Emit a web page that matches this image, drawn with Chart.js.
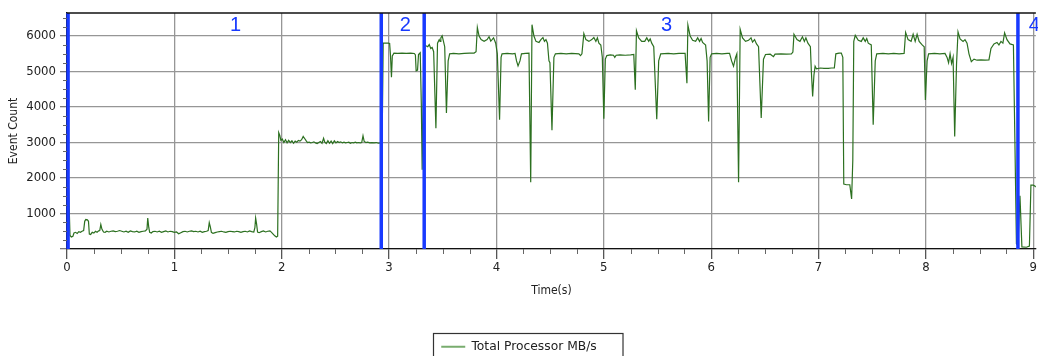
<!DOCTYPE html>
<html>
<head>
<meta charset="utf-8">
<title>Total Processor MB/s</title>
<script src="https://cdn.jsdelivr.net/npm/chart.js@4.4.1/dist/chart.umd.min.js"></script>
<style>
  html, body { margin: 0; padding: 0; background: #fff; }
</style>
</head>
<body>
<canvas id="cpuChart" width="1038" height="356"></canvas>
<script>
"use strict";
// sample times (s) and counts of the trace
var timeSec = [
  0.000, 0.010, 0.020, 0.028, 0.040, 0.055, 0.065, 0.080, 0.095, 0.110, 0.125, 0.140, 0.155, 0.165, 0.175, 0.190, 0.200, 0.208,
  0.220, 0.235, 0.250, 0.265, 0.280, 0.295, 0.305, 0.315, 0.325, 0.340, 0.355, 0.370, 0.390, 0.410, 0.430, 0.450, 0.470, 0.490,
  0.510, 0.530, 0.550, 0.570, 0.590, 0.610, 0.630, 0.650, 0.670, 0.690, 0.710, 0.730, 0.745, 0.752, 0.762, 0.770, 0.785, 0.800,
  0.820, 0.840, 0.860, 0.880, 0.900, 0.920, 0.940, 0.960, 0.980, 1.000, 1.020, 1.040, 1.060, 1.080, 1.100, 1.120, 1.140, 1.160,
  1.180, 1.200, 1.220, 1.240, 1.260, 1.280, 1.300, 1.315, 1.325, 1.335, 1.345, 1.360, 1.380, 1.400, 1.420, 1.440, 1.460, 1.480,
  1.500, 1.520, 1.540, 1.560, 1.580, 1.600, 1.620, 1.640, 1.660, 1.680, 1.700, 1.720, 1.740, 1.750, 1.757, 1.766, 1.775, 1.790,
  1.810, 1.830, 1.850, 1.870, 1.890, 1.905, 1.920, 1.935, 1.950, 1.962, 1.972,
  1.982, 1.992, 2.005, 2.020, 2.035, 2.050, 2.065, 2.080, 2.095, 2.110, 2.125, 2.140, 2.155, 2.170, 2.185, 2.200, 2.212, 2.225,
  2.240, 2.255, 2.270, 2.285, 2.300, 2.315, 2.330, 2.345, 2.360, 2.375, 2.390, 2.400, 2.415, 2.430, 2.445, 2.460, 2.475, 2.490,
  2.505, 2.520, 2.535, 2.550, 2.565, 2.580, 2.595, 2.610, 2.625, 2.640, 2.655, 2.670, 2.685, 2.700, 2.715, 2.730, 2.745, 2.757,
  2.768, 2.785, 2.800, 2.820, 2.840, 2.860, 2.880, 2.900, 2.920, 2.935, 2.945,
  2.990, 3.005, 3.013, 3.022, 3.030, 3.045, 3.080, 3.120, 3.160, 3.200, 3.235, 3.245, 3.252, 3.265, 3.274, 3.290, 3.300, 3.308,
  3.318, 3.328, 3.343, 3.360, 3.374, 3.388, 3.401, 3.415, 3.436, 3.451, 3.467, 3.475, 3.482, 3.494, 3.506, 3.518, 3.534, 3.550,
  3.564, 3.600, 3.650, 3.700, 3.750, 3.792, 3.810, 3.822, 3.838, 3.857, 3.885, 3.913, 3.931, 3.947, 3.959, 3.973, 3.993, 4.008,
  4.029, 4.043, 4.052, 4.100, 4.150, 4.173, 4.187, 4.201, 4.219, 4.233, 4.270, 4.303, 4.319, 4.331, 4.349, 4.368, 4.396, 4.414,
  4.433, 4.447, 4.461, 4.475, 4.489, 4.498, 4.517, 4.535, 4.549, 4.600, 4.650, 4.700, 4.768, 4.783, 4.796, 4.814, 4.833, 4.861,
  4.888, 4.907, 4.926, 4.940, 4.954, 4.972, 4.986, 5.000, 5.014, 5.028, 5.060, 5.090, 5.102, 5.115, 5.150, 5.200, 5.250, 5.279,
  5.293, 5.304, 5.325, 5.353, 5.381, 5.400, 5.418, 5.432, 5.446, 5.465, 5.493, 5.511, 5.530, 5.600, 5.650, 5.700, 5.757, 5.774,
  5.783, 5.804, 5.827, 5.855, 5.874, 5.892, 5.906, 5.920, 5.948, 5.962, 5.976, 5.990, 6.004, 6.050, 6.100, 6.150, 6.171, 6.190,
  6.208, 6.227, 6.239, 6.255, 6.270, 6.292, 6.320, 6.348, 6.371, 6.385, 6.404, 6.422, 6.441, 6.466, 6.487, 6.506, 6.550, 6.580,
  6.595, 6.650, 6.700, 6.747, 6.761, 6.771, 6.799, 6.827, 6.850, 6.868, 6.882, 6.901, 6.924, 6.933, 6.945, 6.957, 6.968, 6.980,
  7.017, 7.050, 7.091, 7.120, 7.147, 7.161, 7.190, 7.212, 7.226, 7.235, 7.260, 7.291, 7.308, 7.319, 7.328, 7.342, 7.370, 7.398,
  7.416, 7.435, 7.449, 7.463, 7.491, 7.509, 7.528, 7.542, 7.600, 7.650, 7.700, 7.750, 7.797, 7.811, 7.834, 7.862, 7.881, 7.900,
  7.918, 7.937, 7.965, 7.984, 7.995, 8.011, 8.025, 8.080, 8.130, 8.178, 8.197, 8.211, 8.225, 8.239, 8.253, 8.268, 8.285, 8.299,
  8.318, 8.346, 8.364, 8.383, 8.401, 8.423, 8.448, 8.476, 8.513, 8.550, 8.587, 8.606, 8.634, 8.662, 8.680, 8.699, 8.717, 8.733,
  8.755, 8.783, 8.815, 8.829, 8.843, 8.857, 8.876, 8.894, 8.936, 8.964, 8.978, 9.000, 9.028
];
var eventCount = [
  2150, 2080, 1200, 380, 340, 360, 450, 470, 440, 490, 470, 500, 520, 780, 830, 820, 780, 420,
  410, 470, 450, 500, 470, 510, 520, 690, 560, 480, 470, 500, 480, 500, 510, 490, 500, 520,
  500, 480, 500, 470, 510, 490, 480, 500, 470, 490, 500, 510, 560, 870, 600, 470, 450, 490,
  500, 480, 500, 470, 490, 510, 480, 500, 490, 470, 480, 430, 460, 490, 500, 480, 500, 510,
  490, 500, 480, 500, 470, 490, 500, 520, 740, 620, 470, 440, 460, 480, 490, 500, 480, 470,
  490, 500, 490, 480, 500, 490, 470, 490, 500, 480, 510, 490, 480, 600, 870, 700, 480, 460,
  490, 510, 480, 500, 510, 470, 420, 370, 340, 360, 3280,
  3200, 3060, 3100, 3000, 3080, 2990, 3060, 3000, 3050, 2980, 3040, 3010, 3060, 3040, 3080, 3170, 3120, 3060,
  3000, 3010, 2990, 3000, 3020, 2990, 2970, 3000, 3030, 2980, 3120, 3020, 2970, 3050, 2980, 3040, 2970, 3050,
  2990, 3030, 3000, 3020, 2990, 3010, 2990, 3000, 3010, 2980, 3000, 2990, 3010, 2990, 3000, 2990, 3000, 3190,
  3030, 3000, 3010, 2990, 3000, 2990, 3000, 2980, 2990, 3000, 5800,
  5800, 5790, 5450, 4840, 5440, 5520, 5510, 5520, 5510, 5520, 5510, 5470, 5020, 5040, 5480, 5530, 4100, 2230,
  4400, 5760, 5730, 5700, 5760, 5650, 5680, 5560, 3400, 5800, 5900, 5850, 5950, 6010, 5860, 5700, 3830, 5300,
  5500, 5510, 5500, 5510, 5520, 5520, 5560, 6240, 6000, 5900, 5850, 5900, 5980, 5860, 5900, 5950, 5800, 5500,
  3640, 5400, 5500, 5510, 5500, 5510, 5300, 5160, 5300, 5500, 5510, 5520, 1880, 6320, 6000, 5850, 5820, 5900,
  5960, 5850, 5900, 5800, 5300, 5250, 3350, 5400, 5500, 5510, 5500, 5510, 5500, 5450, 5500, 6070, 5900, 5850,
  5900, 5960, 5850, 5950, 5800, 5750, 5400, 3670, 5350, 5450, 5470, 5460, 5400, 5460, 5470, 5460, 5470, 5480,
  4490, 6150, 5950, 5850, 5850, 5950, 5850, 5920, 5800, 5700, 3660, 5300, 5500, 5510, 5500, 5510, 5510, 4670,
  6310, 6000, 5880, 5850, 5950, 5850, 5930, 5820, 5750, 5300, 3590, 5400, 5500, 5510, 5500, 5510, 5510, 5300,
  5150, 5400, 5500, 1880, 6190, 5950, 5850, 5880, 5950, 5830, 5900, 5780, 5700, 3690, 5350, 5480, 5490, 5420,
  5490, 5500, 5490, 5500, 5550, 6050, 5900, 5850, 5980, 5850, 5950, 5800, 5700, 5000, 4300, 4900, 5150, 5080,
  5100, 5090, 5090, 5100, 5100, 5500, 5520, 5520, 5400, 1830, 1810, 1810, 1410, 2500, 5850, 6020, 5880, 5850,
  5950, 5850, 5930, 5800, 5750, 3500, 5300, 5500, 5510, 5500, 5510, 5500, 5510, 6100, 5900, 5850, 6050, 5850,
  6050, 5850, 5750, 5700, 4200, 5300, 5500, 5510, 5500, 5510, 5400, 5250, 5500, 5230, 5400, 3170, 5200, 6120,
  5920, 5850, 5900, 5800, 5500, 5280, 5350, 5320, 5330, 5320, 5330, 5650, 5780, 5820, 5750, 5850, 5800, 6090,
  5900, 5780, 5750, 3000, 150, 100, 1500, 60, 50, 80, 1800, 1800, 1750
];

// labelled axis ticks
var xTickValues = [0, 1, 2, 3, 4, 5, 6, 7, 8, 9];
var yTickValues = [0, 1000, 2000, 3000, 4000, 5000, 6000];

// phase boundaries (s) and the phase numbers written above the plot
var phaseMarks = [0.01, 2.927, 3.327, 8.857];
var phaseNames = ['1', '2', '3', '4'];
var phaseNameAt = [1.57, 3.15, 5.585, 9.01];

var phaseBlue = 'rgb(24, 58, 255)';
var tickFont = { family: 'DejaVu Sans Condensed', size: 13 };
var titleFont = { family: 'DejaVu Sans Condensed', size: 12 };
var legendFont = { family: 'DejaVu Sans', size: 12.3 };

function toTicks(values) {
    return values.map(function (v) { return { value: v }; });
}

// quarter-step ticks between the labelled ones, plus the top edge
var minorTicks = {
    id: 'minorTicks',
    afterDraw: function (chart) {
        var ctx = chart.ctx, area = chart.chartArea;
        var xs = chart.scales.x, ys = chart.scales.y;
        ctx.save();
        ctx.strokeStyle = '#666';
        ctx.lineWidth = 1;
        ctx.beginPath();
        for (var t = 0.25; t < 9; t += 0.25) {
            if (t % 1 === 0) continue;
            var px = Math.round(xs.getPixelForValue(t)) + 0.5;
            ctx.moveTo(px, area.bottom);
            ctx.lineTo(px, area.bottom + 5);
        }
        for (var v = 250; v <= 6500; v += 250) {
            if (v % 1000 === 0) continue;
            var py = Math.round(ys.getPixelForValue(v)) + 0.5;
            ctx.moveTo(area.left - 4, py);
            ctx.lineTo(area.left, py);
        }
        ctx.stroke();
        ctx.strokeStyle = '#111';
        ctx.lineWidth = 1.3;
        ctx.beginPath();
        ctx.moveTo(area.left, area.top);
        ctx.lineTo(area.right, area.top);
        ctx.stroke();
        ctx.restore();
    }
};

var phaseMarkers = {
    id: 'phaseMarkers',
    afterDatasetsDraw: function (chart) {
        var ctx = chart.ctx, area = chart.chartArea, xs = chart.scales.x;
        ctx.save();
        ctx.strokeStyle = phaseBlue;
        ctx.lineWidth = 3.5;
        phaseMarks.forEach(function (t) {
            var px = xs.getPixelForValue(t);
            ctx.beginPath();
            ctx.moveTo(px, area.top);
            ctx.lineTo(px, area.bottom);
            ctx.stroke();
        });
        ctx.fillStyle = phaseBlue;
        ctx.font = '20px "Liberation Sans", Arial, sans-serif';
        ctx.textAlign = 'center';
        ctx.textBaseline = 'alphabetic';
        phaseNames.forEach(function (name, i) {
            ctx.fillText(name, xs.getPixelForValue(phaseNameAt[i]), area.top + 18);
        });
        ctx.restore();
    }
};

// frame round the legend entry
var legendFrame = {
    id: 'legendFrame',
    afterDraw: function (chart) {
        var box = chart.legend && chart.legend.legendHitBoxes[0];
        if (!box) return;
        var ctx = chart.ctx;
        ctx.save();
        ctx.strokeStyle = '#333';
        ctx.lineWidth = 1.2;
        ctx.strokeRect(Math.round(box.left - 8) + 0.5, Math.round(box.top - 8) + 0.5, box.width + 34, box.height + 30);
        ctx.restore();
    }
};

new Chart(document.getElementById('cpuChart'), {
    type: 'line',
    data: {
        datasets: [{
            label: 'Total Processor MB/s',
            data: timeSec.map(function (t, i) { return { x: t, y: eventCount[i] }; }),
            borderColor: 'rgb(44, 112, 32)',
            backgroundColor: 'rgb(120, 172, 110)',
            borderWidth: 1.2,
            pointRadius: 0,
            tension: 0,
            fill: false
        }]
    },
    options: {
        responsive: false,
        animation: false,
        layout: { padding: { top: 13, right: 0, bottom: -7, left: 0 } },
        plugins: {
            tooltip: { enabled: false },
            legend: {
                position: 'bottom',
                labels: {
                    font: legendFont,
                    color: '#222',
                    boxWidth: 24,
                    boxHeight: 2,
                    padding: 2,
                    generateLabels: function (chart) {
                        var items = Chart.defaults.plugins.legend.labels.generateLabels(chart);
                        items.forEach(function (item) { item.lineWidth = 0; });
                        return items;
                    }
                }
            }
        },
        scales: {
            x: {
                type: 'linear',
                min: 0,
                max: 9.024,
                afterBuildTicks: function (scale) { scale.ticks = toTicks(xTickValues); },
                afterFit: function (scale) {
                    var lg = scale.chart.legend ? scale.chart.legend.height : 0;
                    scale.height = scale.chart.height + 7 - 249 - lg;
                },
                ticks: { autoSkip: false, maxRotation: 0, padding: 1, color: '#222', font: tickFont },
                grid: { color: 'rgb(150, 150, 150)', lineWidth: 1.3, tickLength: 10, tickColor: '#555' },
                border: { color: '#111', width: 1.3 },
                title: { display: true, text: 'Time(s)', color: '#222', font: titleFont, padding: { top: 0, bottom: 41 } }
            },
            y: {
                min: 0,
                max: 6650,
                afterBuildTicks: function (scale) { scale.ticks = toTicks(yTickValues); },
                afterFit: function (scale) { scale.width = 67; },
                ticks: {
                    autoSkip: false, padding: 4, color: '#222', font: tickFont,
                    callback: function (v) { return v === 0 ? '' : v; }
                },
                grid: { color: 'rgb(150, 150, 150)', lineWidth: 1.3, tickLength: 7, tickColor: 'rgb(120, 120, 120)' },
                border: { color: '#111', width: 1.3 },
                title: { display: true, text: 'Event Count', color: '#222', font: titleFont, padding: { top: 7, bottom: 0 } }
            }
        }
    },
    plugins: [minorTicks, phaseMarkers, legendFrame]
});
</script>
</body>
</html>
